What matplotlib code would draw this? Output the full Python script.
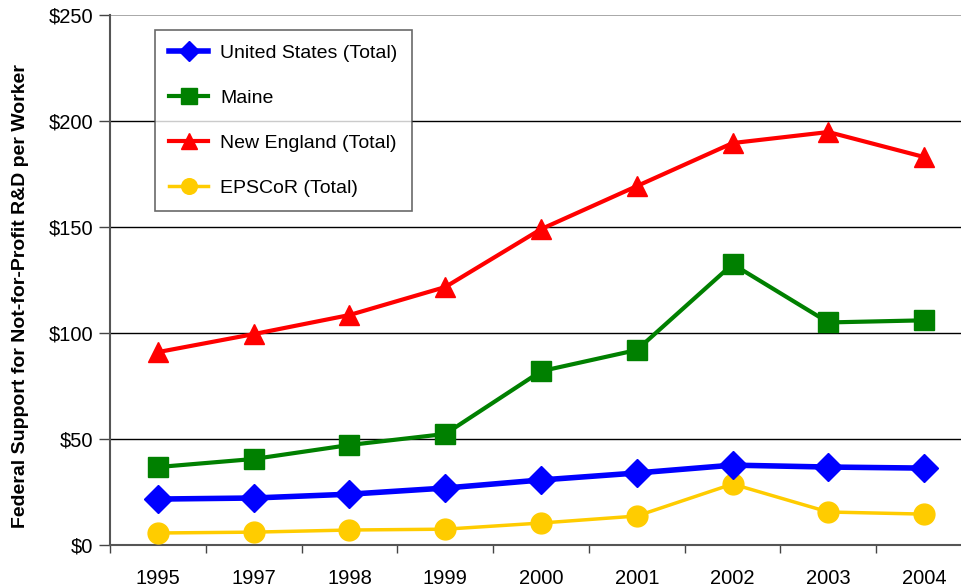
import matplotlib
matplotlib.use('Agg')
import matplotlib.pyplot as plt
from matplotlib.ticker import FuncFormatter, FixedLocator

plt.rcParams['font.family'] = ['Liberation Sans', 'DejaVu Sans']

years = ['1995', '1997', '1998', '1999', '2000', '2001', '2002', '2003', '2004']
us_total = [21.7, 22.2, 24.0, 26.9, 30.7, 34.0, 37.7, 36.8, 36.3]
maine = [36.8, 40.6, 47.2, 52.4, 82.0, 92.0, 132.5, 105.0, 106.0]
new_england = [91.0, 99.5, 108.5, 121.7, 149.0, 169.3, 189.6, 194.8, 183.0]
epscor = [5.7, 6.1, 7.1, 7.5, 10.4, 13.7, 28.8, 15.6, 14.6]

fig = plt.figure(figsize=(9.61, 5.88), dpi=100)
ax = fig.add_axes([0.1145, 0.073, 0.897, 0.9015])

x = list(range(len(years)))
ax.plot(x, us_total, color='#0000FF', lw=4, marker='D', ms=14, label='United States (Total)', zorder=4)
ax.plot(x, maine, color='#008000', lw=3, marker='s', ms=15, label='Maine', zorder=3)
ax.plot(x, new_england, color='#FF0000', lw=3, marker='^', ms=15, label='New England (Total)', zorder=3)
ax.plot(x, epscor, color='#FFCC00', lw=2.5, marker='o', ms=15, label='EPSCoR (Total)', zorder=3)

ax.set_xlim(-0.5, len(years) - 0.5)
ax.set_ylim(0, 250)
ax.set_yticks([0, 50, 100, 150, 200, 250])
ax.yaxis.set_major_formatter(FuncFormatter(lambda v, p: '${:.0f}'.format(v)))
for v in [50, 100, 150, 200]:
    ax.axhline(v, color='black', lw=1, zorder=1)
ax.axhline(250, color='#999999', lw=1.2, zorder=1)

ax.set_xticks(x)
ax.set_xticklabels(years)
ax.xaxis.set_minor_locator(FixedLocator([i - 0.5 for i in range(len(years) + 1)]))
ax.tick_params(axis='x', which='major', length=0, pad=17, labelsize=14.5)
ax.tick_params(axis='x', which='minor', length=6, width=1, color='#444444', direction='out')
ax.tick_params(axis='y', length=8, width=1, color='#444444', labelsize=14.5, pad=4)

for s in ['top', 'right']:
    ax.spines[s].set_visible(False)
ax.spines['left'].set_color('#555555')
ax.spines['left'].set_linewidth(1.5)
ax.spines['bottom'].set_color('#555555')
ax.spines['bottom'].set_linewidth(1.5)

ax.set_ylabel('Federal Support for Not-for-Profit R&D per Worker', fontsize=14, fontweight='bold')
ax.yaxis.set_label_coords(-0.094, 0.47)

leg = ax.legend(loc='upper left', bbox_to_anchor=(0.052, 0.972), fontsize=14, markerscale=0.75,
                frameon=True, fancybox=False, edgecolor='#444444', labelspacing=1.4,
                handlelength=2.0, handletextpad=0.6, borderpad=0.75, borderaxespad=0)
leg.get_frame().set_linewidth(1.2)
leg.set_zorder(5)

fig.savefig('out.png', dpi=100)
